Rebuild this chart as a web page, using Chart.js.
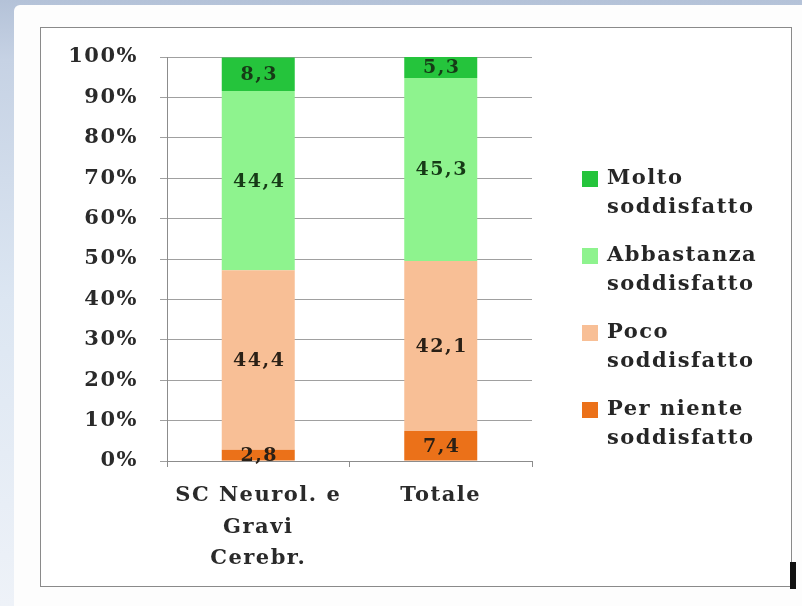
<!DOCTYPE html>
<html>
<head>
<meta charset="utf-8">
<script src="https://cdn.jsdelivr.net/npm/chart.js@4.4.0/dist/chart.umd.min.js"></script>
<style>
  html, body { margin: 0; padding: 0; }
  body {
    width: 802px; height: 606px; overflow: hidden; position: relative;
    background: linear-gradient(to bottom, #b4c2d8 0px, #c6d2e4 60px, #dce6f2 300px, #eef2f8 606px);
  }
  #panel {
    position: absolute; left: 14px; top: 5px; width: 788px; height: 601px;
    background: #fdfdfd; border-top-left-radius: 6px;
  }
  #frame {
    position: absolute; left: 40px; top: 27px; width: 750px; height: 558px;
    border: 1px solid #8a8a8a; background: #fff;
  }
  #chart { position: absolute; left: 0; top: 0; }
  #mark { position: absolute; left: 790px; top: 562px; width: 6px; height: 27px; background: #111; }
</style>
</head>
<body>
<div id="panel"></div>
<div id="frame"><canvas id="chart" width="750" height="558"></canvas></div>
<div id="mark"></div>
<script>
document.addEventListener("DOMContentLoaded", function() {

const categories = [["SC Neurol. e", "Gravi", "Cerebr."], "Totale"];
const seriesNames = [["Per niente", "soddisfatto"], ["Poco", "soddisfatto"], ["Abbastanza", "soddisfatto"], ["Molto", "soddisfatto"]];
const perNiente = [2.8, 7.4];
const poco = [44.4, 42.1];
const abbastanza = [44.4, 45.3];
const molto = [8.3, 5.3];
const yTicks = [0, 10, 20, 30, 40, 50, 60, 70, 80, 90, 100];

const colors = ["#eb7119", "#f8bf96", "#8ef38e", "#25c43c"];
const serif = "'DejaVu Serif', 'Liberation Serif', serif";

// the picture's text is a bit stretched, widen it a little
const wideText = {
  id: 'wideText',
  beforeDraw(chart) { chart.ctx.letterSpacing = '1.5px'; }
};

// value labels in the middle of each segment
const segmentLabels = {
  id: 'segmentLabels',
  afterDatasetsDraw(chart) {
    const c = chart.ctx;
    c.save();
    c.font = "bold 19px " + serif;
    c.textAlign = 'center';
    c.textBaseline = 'middle';
    chart.data.datasets.forEach((ds, i) => {
      const meta = chart.getDatasetMeta(i);
      meta.data.forEach((bar, j) => {
        const p = bar.getProps(['x', 'y', 'base'], true);
        c.fillStyle = i >= 2 ? '#163a16' : '#2a2016';
        c.fillText(ds.data[j].toFixed(1).replace('.', ','), p.x + 1, (p.y + p.base) / 2 + 1);
      });
    });
    c.restore();
  }
};

// legend drawn on the right, top item = last dataset
const sideLegend = {
  id: 'sideLegend',
  afterDraw(chart) {
    const c = chart.ctx;
    c.save();
    c.font = "bold 21px " + serif;
    c.textBaseline = 'middle';
    c.textAlign = 'left';
    const ds = chart.data.datasets.slice().reverse();
    ds.forEach((d, k) => {
      const y = 151 + k * 77;
      c.fillStyle = d.backgroundColor;
      c.fillRect(541, y - 8, 16, 16);
      c.fillStyle = '#262626';
      d.label.forEach((line, n) => c.fillText(line, 566, y + n * 29));
    });
    c.restore();
  }
};

const ctx = document.getElementById('chart').getContext('2d');

new Chart(ctx, {
  type: 'bar',
  data: {
    labels: categories,
    datasets: [
      { label: seriesNames[0], data: perNiente, backgroundColor: colors[0] },
      { label: seriesNames[1], data: poco, backgroundColor: colors[1] },
      { label: seriesNames[2], data: abbastanza, backgroundColor: colors[2] },
      { label: seriesNames[3], data: molto, backgroundColor: colors[3] }
    ]
  },
  options: {
    responsive: false,
    animation: false,
    layout: { padding: { left: 0, top: 29, right: 259, bottom: 0 } },
    datasets: { bar: { categoryPercentage: 1, barPercentage: 0.4, borderWidth: 0 } },
    plugins: { legend: { display: false }, tooltip: { enabled: false } },
    scales: {
      x: {
        stacked: true,
        afterFit: s => { s.height = 125; s.paddingLeft = 0; s.paddingRight = 0; },
        grid: { display: true, drawOnChartArea: false, tickLength: 6, color: '#8c8c8c' },
        border: { color: '#8c8c8c' },
        ticks: { color: '#2a2a2a', padding: 13, font: { family: serif, size: 21, weight: 'bold', lineHeight: 1.5 } }
      },
      y: {
        stacked: true,
        min: 0, max: 100,
        afterFit: s => { s.width = 126; s.paddingTop = 0; s.paddingBottom = 0; },
        afterBuildTicks: s => { s.ticks = yTicks.map(v => ({ value: v })); },
        grid: { color: '#a0a0a0', tickLength: 7 },
        border: { color: '#8c8c8c' },
        ticks: {
          color: '#2a2a2a', padding: 22,
          font: { family: serif, size: 21, weight: 'bold' },
          callback: v => v + '%'
        }
      }
    }
  },
  plugins: [wideText, segmentLabels, sideLegend]
});

});
</script>
</body>
</html>
